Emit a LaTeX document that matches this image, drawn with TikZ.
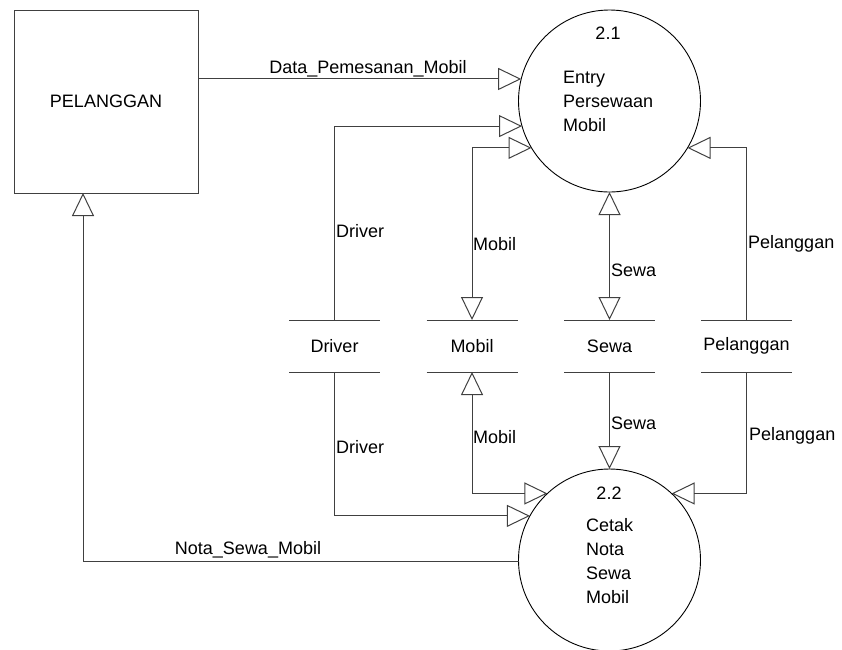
\documentclass[tikz,border=0pt]{standalone}
\usepackage{fontspec}
\setmainfont{Liberation Sans}
\usetikzlibrary{arrows.meta}
\newcommand\dfdfont{\fontsize{18}{24}\selectfont}
\begin{document}
\begin{tikzpicture}[x=1pt,y=-1pt,
  ln/.style={draw=black!75, line width=1pt},
  flow/.style={ln, -{Triangle[open,length=23pt,width=22pt]}},
  both/.style={ln, {Triangle[open,length=23pt,width=22pt]}-{Triangle[open,length=23pt,width=22pt]}},
  proc/.style={circle, draw=black, line width=0.9pt, minimum size=182pt, inner sep=0pt, outer sep=0pt},
  ext/.style={rectangle, draw=black!75, line width=1pt, minimum width=184pt, minimum height=183pt, outer sep=0pt, font=\dfdfont},
  store/.style={minimum width=91pt, minimum height=52pt, inner sep=0pt, outer sep=0pt, font=\dfdfont},
  lbl/.style={inner sep=0pt, font=\dfdfont, anchor=west},
  ptxt/.style={inner sep=0pt, font=\dfdfont, align=left, anchor=west}]
\useasboundingbox (0,0) rectangle (842,649);

% external entity
\node[ext] (cust) at (106,101.5) {PELANGGAN};

% processes
\node[proc] (p21) at (609.5,101) {};
\node[proc] (p22) at (609.5,560) {};
\node[inner sep=0pt, font=\dfdfont] (n21) at (608,33) {2.1};
\node[ptxt] (t21) at (563,101) {Entry\\Persewaan\\Mobil};
\node[inner sep=0pt, font=\dfdfont] (n22) at (609,493) {2.2};
\node[ptxt] (t22) at (586,561) {Cetak\\Nota\\Sewa\\Mobil};

% data stores
\node[store] (sDriver) at (334.5,346) {Driver};
\node[store] (sMobil) at (472,346) {Mobil};
\node[store] (sSewa) at (609.5,346) {Sewa};
\node[store] (sPel) at (746.5,346) {Pelanggan};
\foreach \s in {sDriver,sMobil,sSewa,sPel}{
  \draw[ln] (\s.north west) -- (\s.north east);
  \draw[ln] (\s.south west) -- (\s.south east);
}

% flows to 2.1
\draw[flow] (p21.166 -| cust.east) -- (p21.166);
\draw[flow] (sDriver.north) |- (p21.196);
\draw[both] (p21.211) -| (sMobil.north);
\draw[both] (p21.south) -- (sSewa.north);
\draw[flow] (sPel.north) |- (p21.329);

% flows to 2.2
\draw[flow] (sDriver.south) |- (p22.151);
\draw[both] (sMobil.south) |- (p22.133);
\draw[flow] (sSewa.south) -- (p22.north);
\draw[flow] (sPel.south) |- (p22.47);
\draw[flow] (p22.181) -| ([xshift=-23pt]cust.south);

% flow labels
\node[lbl, anchor=center] (lData) at (368,69) {Data\_Pemesanan\_Mobil};
\node[lbl] (lDrv1) at (336,231) {Driver};
\node[lbl] (lMob1) at (473,244) {Mobil};
\node[lbl] (lSew1) at (611,270) {Sewa};
\node[lbl] (lPel1) at (748,244) {Pelanggan};
\node[lbl] (lDrv2) at (336,447) {Driver};
\node[lbl] (lMob2) at (473,437) {Mobil};
\node[lbl] (lSew2) at (611,423) {Sewa};
\node[lbl] (lPel2) at (749,436) {Pelanggan};
\node[lbl, anchor=center] (lNota) at (248,550) {Nota\_Sewa\_Mobil};
\end{tikzpicture}
\end{document}
